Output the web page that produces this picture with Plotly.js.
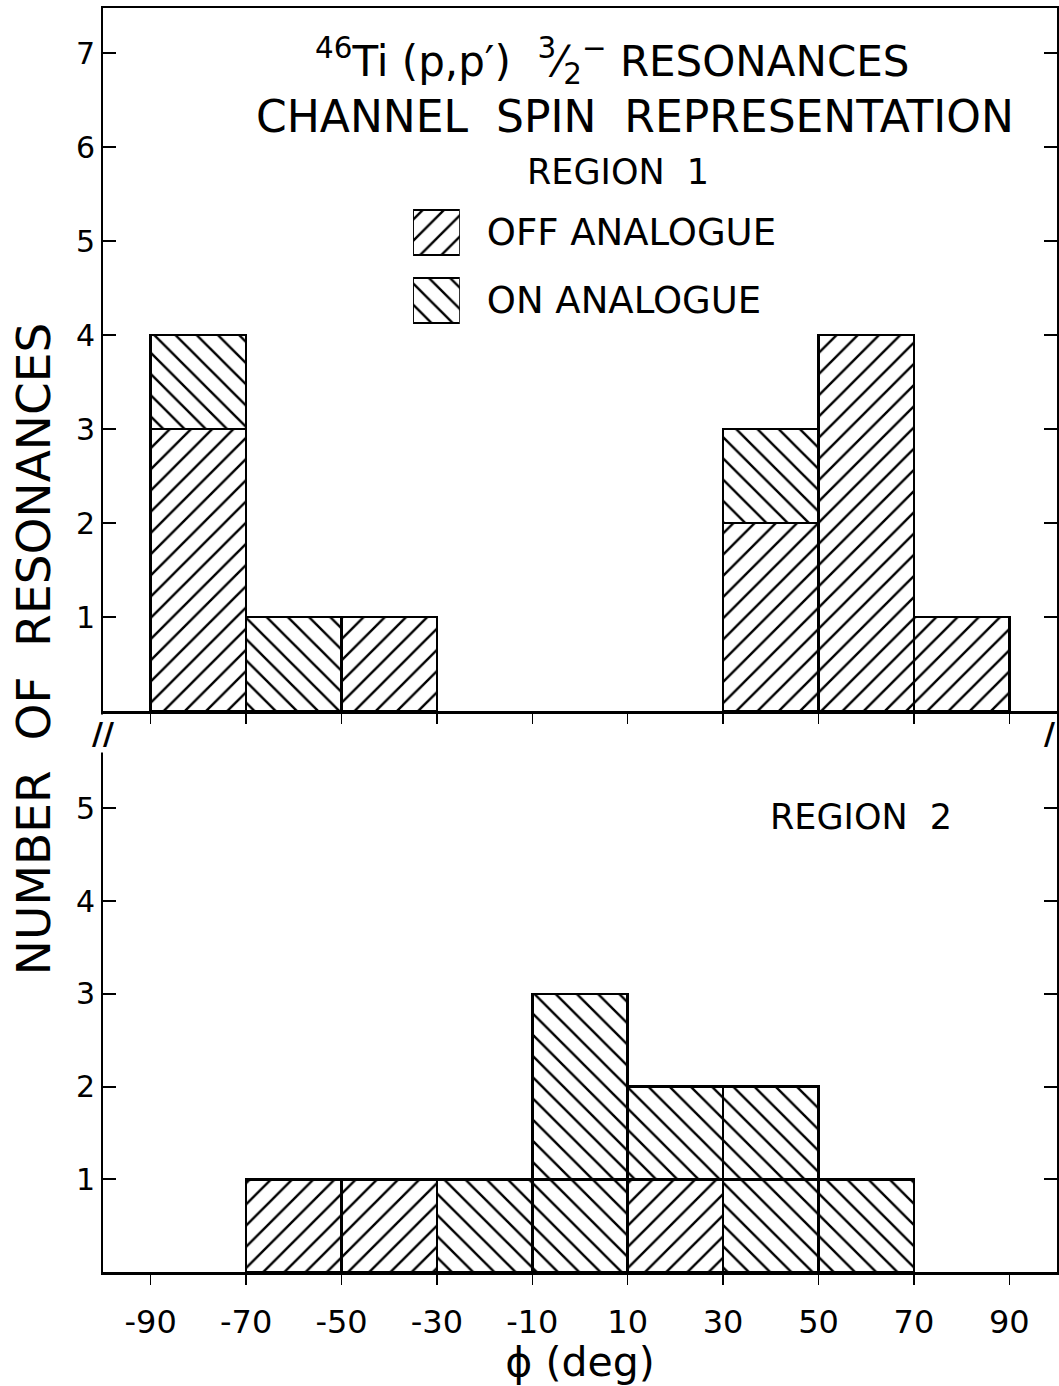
<!DOCTYPE html>
<html>
<head>
<meta charset="utf-8">
<script src="https://cdn.plot.ly/plotly-3.0.1.min.js"></script>
<style>html,body{margin:0;padding:0;background:#fff;}</style>
</head>
<body>
<div id="chart" style="width:1059px;height:1386px;"></div>
<script>
// Bin centres (deg), bins are 20 deg wide
const binCenters = [-80, -60, -40, -20, 0, 20, 40, 60, 80];
const binWidth = 20;
// Region 1
const region1Off = [3, 0, 1, 0, 0, 0, 2, 4, 1];
const region1On  = [1, 1, 0, 0, 0, 0, 1, 0, 0];
// Region 2 (on-analogue drawn as two stacked layers, as in the original)
const region2Off     = [0, 1, 1, 0, 0, 1, 0, 0, 0];
const region2OnLower = [0, 0, 0, 1, 1, 0, 1, 1, 0];
const region2OnUpper = [0, 0, 0, 0, 2, 1, 1, 0, 0];
// Key (hatched boxes with their labels)
const keyLabels = ['OFF ANALOGUE', 'ON ANALOGUE'];
const keyHatch = ['/', '\\'];
const keyFill = [1, 1];
// Ticks
const xTickVals = [-90, -70, -50, -30, -10, 10, 30, 50, 70, 90];
const xTickText = ['-90', '-70', '-50', '-30', '-10', '10', '30', '50', '70', '90'];
const y1TickVals = [1, 2, 3, 4, 5, 6, 7];
const y2TickVals = [1, 2, 3, 4, 5];

const FONT = 'DejaVu Sans, Liberation Sans, sans-serif';
const nz = a => a.map(v => (v ? v : null));
const patt = shape => ({shape: shape, fgcolor: 'black', bgcolor: 'white', size: 15, solidity: 0.16, fillmode: 'replace'});

function bar(vals, shape, xa, ya, name) {
  return {
    type: 'bar', x: binCenters, y: nz(vals), width: binWidth,
    xaxis: xa, yaxis: ya, name: name, showlegend: false,
    marker: {color: 'white', line: {color: 'black', width: 2.5}, pattern: patt(shape)},
    hoverinfo: 'skip'
  };
}

const data = [
  bar(region1Off, '/', 'x', 'y', 'OFF ANALOGUE'),
  bar(region1On, '\\', 'x', 'y', 'ON ANALOGUE'),
  bar(region2Off, '/', 'x2', 'y2', 'OFF ANALOGUE'),
  bar(region2OnLower, '\\', 'x2', 'y2', 'ON ANALOGUE'),
  bar(region2OnUpper, '\\', 'x2', 'y2', 'ON ANALOGUE'),
  {
    type: 'bar', orientation: 'h', y: keyLabels, x: keyFill, width: 0.66,
    xaxis: 'x3', yaxis: 'y3', showlegend: false, hoverinfo: 'skip',
    marker: {color: 'white', line: {color: 'black', width: 2.5},
      pattern: {shape: keyHatch, fgcolor: 'black', bgcolor: 'white', size: 15, solidity: 0.16, fillmode: 'replace'}}
  }
];

const split = 0.4438;
const axX = {
  range: [-100, 100], tickvals: xTickVals, ticktext: xTickText,
  showline: true, linecolor: 'black', linewidth: 2.5,
  ticks: 'outside', ticklen: 10, tickwidth: 1.5, tickcolor: 'black',
  showgrid: false, zeroline: false, fixedrange: true
};
const axY = {
  showline: true, linecolor: 'black', linewidth: 2, mirror: 'ticks',
  ticks: 'inside', ticklen: 13, tickwidth: 2, tickcolor: 'black',
  showgrid: false, zeroline: false,
  tickfont: {family: FONT, size: 30, color: 'black'}
};

const layout = {
  width: 1059, height: 1386,
  margin: {l: 103, r: 2, t: 8, b: 114},
  paper_bgcolor: 'white', plot_bgcolor: 'white',
  barmode: 'stack', bargap: 0,
  font: {family: FONT, color: 'black'},
  showlegend: false,
  xaxis: Object.assign({}, axX, {anchor: 'y', showticklabels: false, mirror: true}),
  yaxis: Object.assign({}, axY, {domain: [split, 1], range: [0, 7.48], tickvals: y1TickVals, anchor: 'x'}),
  xaxis2: Object.assign({}, axX, {anchor: 'y2', matches: 'x', ticklabelstandoff: 10,
    tickfont: {family: FONT, size: 32, color: 'black'},
    title: {text: 'ϕ (deg)', font: {family: FONT, size: 41, color: 'black'}, standoff: 8}}),
  yaxis2: Object.assign({}, axY, {domain: [0, split], range: [0, 6.05], tickvals: y2TickVals, anchor: 'x2'}),
  // key axes
  xaxis3: {domain: [0.325, 0.374], range: [0, 1], anchor: 'y3', visible: false, fixedrange: true},
  yaxis3: {domain: [0.7417, 0.8493], range: [1.5, -0.5], anchor: 'x3', side: 'right',
    type: 'category', categoryorder: 'array', categoryarray: keyLabels,
    showline: false, ticks: '', showgrid: false, zeroline: false, ticklabelstandoff: 26,
    tickfont: {family: FONT, size: 37, color: 'black'}},
  annotations: [
    {xref: 'paper', yref: 'paper', x: 0.5335, y: 0.958, xanchor: 'center', yanchor: 'middle', showarrow: false,
     text: '<sup>46</sup>Ti (p,p′)  <sup>3</sup>⁄<sub>2</sub><sup>−</sup> RESONANCES', font: {family: FONT, size: 42}},
    {xref: 'paper', yref: 'paper', x: 0.5577, y: 0.914, xanchor: 'center', yanchor: 'middle', showarrow: false,
     text: 'CHANNEL  SPIN  REPRESENTATION', font: {family: FONT, size: 44}},
    {xref: 'paper', yref: 'paper', x: 0.540, y: 0.870, xanchor: 'center', yanchor: 'middle', showarrow: false,
     text: 'REGION  1', font: {family: FONT, size: 35}},
    {xref: 'paper', yref: 'paper', x: 0.795, y: 0.360, xanchor: 'center', yanchor: 'middle', showarrow: false,
     text: 'REGION  2', font: {family: FONT, size: 35}},
    {xref: 'paper', yref: 'paper', x: -0.072, y: 0.493, xanchor: 'center', yanchor: 'middle', showarrow: false,
     textangle: -90, text: 'NUMBER  OF  RESONANCES', font: {family: FONT, size: 47}},
    {xref: 'paper', yref: 'paper', x: 0, y: split - 0.018, xanchor: 'center', yanchor: 'middle', showarrow: false,
     text: '<b>//</b>', font: {family: FONT, size: 30}, bgcolor: 'white'},
    {xref: 'paper', yref: 'paper', x: 1, y: split - 0.018, xanchor: 'right', yanchor: 'middle', showarrow: false,
     text: '<b>/</b>', font: {family: FONT, size: 30}, bgcolor: 'white'}
  ]
};

Plotly.newPlot('chart', data, layout, {staticPlot: true, displayModeBar: false});
</script>
</body>
</html>
